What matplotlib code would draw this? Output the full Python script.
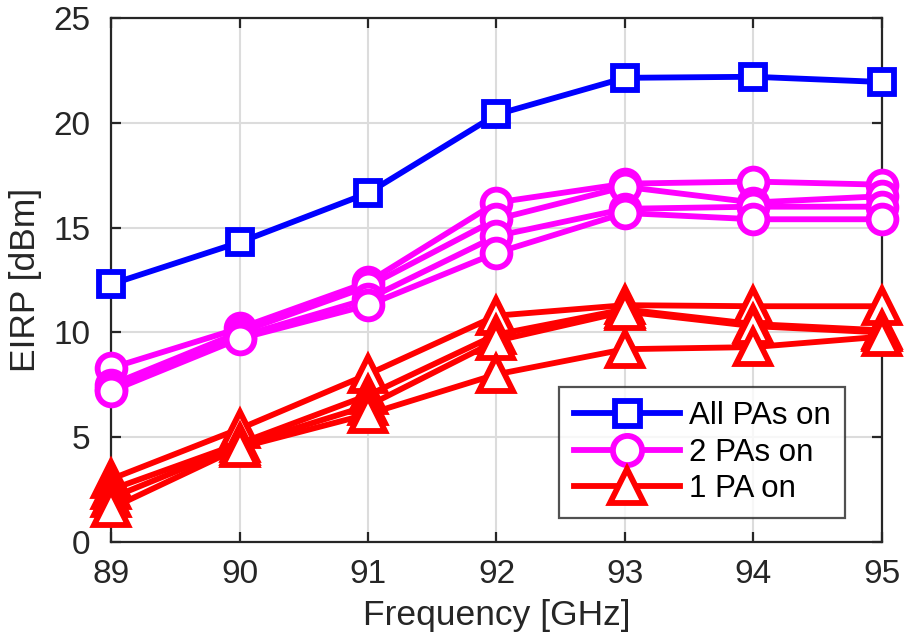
import matplotlib
matplotlib.use("Agg")
import matplotlib.pyplot as plt
from matplotlib.lines import Line2D

plt.rcParams['font.family'] = ['Liberation Sans', 'DejaVu Sans']

freq = [89, 90, 91, 92, 93, 94, 95]

all_pas = [12.3, 14.3, 16.65, 20.4, 22.15, 22.2, 21.95]

two_pas = [
    [8.3, 10.2, 12.4, 16.2, 17.1, 17.2, 17.05],
    [7.5, 10.0, 12.2, 15.4, 16.95, 16.2, 16.5],
    [7.3, 9.8, 11.6, 14.6, 15.9, 16.0, 16.0],
    [7.2, 9.7, 11.3, 13.8, 15.7, 15.4, 15.4],
]

one_pa = [
    [3.0, 5.4, 8.0, 10.8, 11.3, 11.25, 11.25],
    [2.5, 4.7, 7.0, 9.9, 11.1, 10.4, 10.1],
    [2.1, 4.6, 6.5, 9.6, 11.0, 10.3, 10.0],
    [1.6, 4.5, 6.1, 8.0, 9.2, 9.3, 9.8],
]

labels = ['All PAs on', '2 PAs on', '1 PA on']

fig = plt.figure(figsize=(9.07, 6.35), dpi=100)
ax = fig.add_axes([0.1224, 0.1465, 0.85, 0.825])

lw = 4.2
mew = 4.2
ax.plot(freq, all_pas, color='#0000ff', lw=lw, marker='s', ms=17,
        mfc='white', mec='#0000ff', mew=mew, zorder=5, clip_on=False)
for s in two_pas:
    ax.plot(freq, s, color='#ff00ff', lw=lw, marker='o', ms=20,
            mfc='white', mec='#ff00ff', mew=mew, zorder=4, clip_on=False)
for s in one_pa:
    ax.plot(freq, s, color='#ff0000', lw=lw, marker='^', ms=24,
            mfc='white', mec='#ff0000', mew=mew, zorder=3, clip_on=False)

ax.set_xlim(89, 95)
ax.set_ylim(0, 25)
ax.set_xticks(freq)
ax.set_yticks([0, 5, 10, 15, 20, 25])
ax.grid(True, color='#dcdcdc', lw=1.5)
ax.set_axisbelow(True)
for sp in ax.spines.values():
    sp.set_color('#262626')
    sp.set_linewidth(1.6)
    sp.set_zorder(2)
ax.tick_params(direction='in', length=7, width=1.6, colors='#262626',
               labelsize=24, top=True, right=True)
ax.tick_params(axis='x', pad=12)
ax.tick_params(axis='y', pad=15)
ax.set_xlabel('Frequency [GHz]', fontsize=25.5, color='#262626', labelpad=7)
ax.set_ylabel('EIRP [dBm]', fontsize=25.5, color='#262626', labelpad=8)

handles = [
    Line2D([], [], color='#0000ff', lw=lw, marker='s', ms=18, mfc='white', mec='#0000ff', mew=mew),
    Line2D([], [], color='#ff00ff', lw=lw, marker='o', ms=21, mfc='white', mec='#ff00ff', mew=mew),
    Line2D([], [], color='#ff0000', lw=lw, marker='^', ms=25, mfc='white', mec='#ff0000', mew=mew),
]
leg = ax.legend(handles, labels, loc='lower right', bbox_to_anchor=(0.952, 0.046),
                fontsize=22.5, frameon=True, fancybox=False, handlelength=3.4,
                borderpad=0.45, labelspacing=0.2, handletextpad=0.3, borderaxespad=0)
leg.get_frame().set_edgecolor('#262626')
leg.get_frame().set_linewidth(1.6)

fig.savefig('out.png', dpi=100)
